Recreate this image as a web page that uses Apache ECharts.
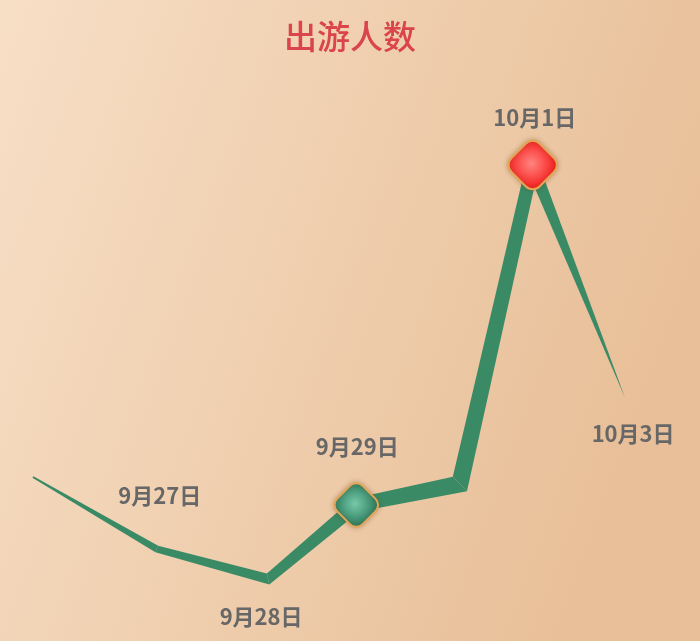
<!DOCTYPE html>
<html><head><meta charset="utf-8">
<script src="https://cdn.jsdelivr.net/npm/echarts@6/dist/echarts.min.js"></script>
<style>html,body{margin:0;padding:0;background:#f2d3b4;}#c{width:700px;height:641px;}</style>
</head><body><div id="c"></div>
<script>
// ---- data ----
const dateLabels = ['', '9月27日', '9月28日', '9月29日', '', '10月1日', '10月3日'];
const xPos = [4.7, 22.4, 38.3, 50.9, 65.7, 76.1, 89.3];
const visitors = [24.6, 10.2, 4.2, 19.0, 23.2, 87.0, 40.4];
const highlighted = ['9月29日', '10月1日'];

// ---- styles ----
const bandWidth = [2, 7, 10, 14, 17, 17, 0];
const labelOffset = {
  '9月27日': [3, -53], '9月28日': [-7, 38], '9月29日': [1, -58],
  '10月1日': [2, -47], '10月3日': [8, 36]
};
const markerStyle = {
  '9月29日': { size: 36, inner: '#74c9a8', outer: '#1f6d50' },
  '10月1日': { size: 40, inner: '#ff8580', outer: '#f50d0d' }
};

function segNormal(a, b) {
  const dx = b[0] - a[0], dy = b[1] - a[1];
  const L = Math.hypot(dx, dy) || 1;
  return [-dy / L, dx / L];
}

function renderBand(params, api) {
  const pts = xPos.map((x, i) => api.coord([x, visitors[i]]));
  const n = pts.length;
  function offsetAt(j) {
    const half = bandWidth[j] / 2;
    let m, k = 1;
    if (j === 0) m = segNormal(pts[0], pts[1]);
    else if (j === n - 1) m = segNormal(pts[n - 2], pts[n - 1]);
    else {
      const n1 = segNormal(pts[j - 1], pts[j]);
      const n2 = segNormal(pts[j], pts[j + 1]);
      let mx = n1[0] + n2[0], my = n1[1] + n2[1];
      const L = Math.hypot(mx, my) || 1;
      m = [mx / L, my / L];
      k = Math.min(2.6, 1 / Math.max(0.01, m[0] * n1[0] + m[1] * n1[1]));
    }
    return [m[0] * half * k, m[1] * half * k];
  }
  const i = params.dataIndex;
  const a = pts[i], b = pts[i + 1];
  const oa = offsetAt(i), ob = offsetAt(i + 1);
  return {
    type: 'polygon',
    shape: { points: [
      [a[0] + oa[0], a[1] + oa[1]], [b[0] + ob[0], b[1] + ob[1]],
      [b[0] - ob[0], b[1] - ob[1]], [a[0] - oa[0], a[1] - oa[1]]
    ] },
    style: { fill: '#3a8a66' }
  };
}

const segData = xPos.slice(0, -1).map((x, i) => [x, visitors[i], xPos[i + 1], visitors[i + 1]]);

const pointData = [];
dateLabels.forEach((name, i) => {
  if (!name) return;
  const hl = highlighted.indexOf(name) >= 0;
  const ms = markerStyle[name];
  pointData.push({
    name: name,
    value: [xPos[i], visitors[i]],
    symbol: hl ? 'roundRect' : 'circle',
    symbolSize: hl ? ms.size : 2,
    symbolRotate: 45,
    itemStyle: hl ? {
      opacity: 1,
      color: { type: 'radial', x: 0.5, y: 0.45, r: 0.7,
        colorStops: [{ offset: 0, color: ms.inner }, { offset: 1, color: ms.outer }] },
      borderColor: '#e4a658', borderWidth: 2,
      shadowBlur: 5, shadowColor: 'rgba(110,60,10,0.35)'
    } : { color: 'rgba(0,0,0,0)', opacity: 1 },
    label: { offset: labelOffset[name] }
  });
});

const chart = echarts.init(document.getElementById('c'));
chart.setOption({
  animation: false,
  backgroundColor: {
    type: 'linear', x: 0, y: 0, x2: 1, y2: 0.4,
    colorStops: [{ offset: 0, color: '#f7dfc6' }, { offset: 1, color: '#e8bf98' }]
  },
  title: {
    text: '出游人数', left: 'center', top: 15,
    textStyle: { color: '#d9454a', fontSize: 33, fontWeight: 500, fontFamily: 'Noto Sans CJK SC' }
  },
  grid: { left: 0, right: 0, top: 100, bottom: 41 },
  xAxis: { type: 'value', min: 0, max: 100, show: false },
  yAxis: { type: 'value', min: 0, max: 100, show: false },
  series: [
    { type: 'custom', renderItem: renderBand, data: segData, z: 2, silent: true },
    {
      type: 'scatter', data: pointData, z: 5,
      label: {
        show: true, position: 'inside', formatter: '{b}',
        color: '#676767', fontSize: 22, fontWeight: 'bold', fontFamily: 'Noto Sans CJK SC'
      }
    }
  ]
});
</script>
</body></html>
